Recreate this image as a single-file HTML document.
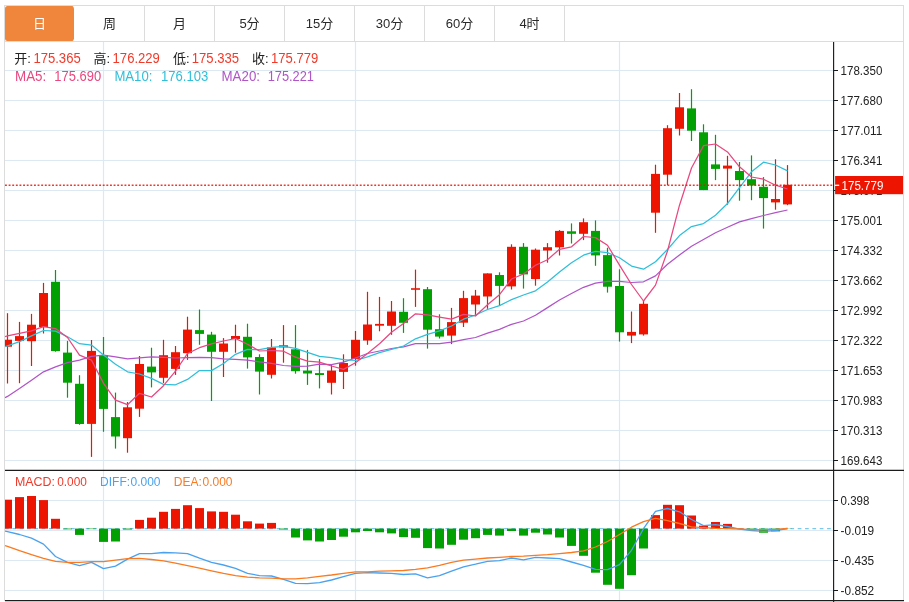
<!DOCTYPE html>
<html lang="zh-CN"><head><meta charset="utf-8"><title>K线图</title>
<style>
html,body{margin:0;padding:0;background:#fff;}
body{width:909px;height:602px;position:relative;overflow:hidden;font-family:"Liberation Sans","Noto Sans CJK SC",sans-serif;}
.tabs{position:absolute;left:5px;top:6px;height:35px;display:flex;}
.tab{box-sizing:border-box;width:70px;height:35px;line-height:35px;text-align:center;font-size:13px;color:#2a2a2a;border-right:1px solid #dcdcdc;}
.tab.on{background:#f0863c;color:#fff;border-radius:2.5px;border-right-color:#fff;background-clip:padding-box}
</style></head><body>
<svg width="909" height="602" viewBox="0 0 909 602" style="position:absolute;left:0;top:0">
<defs><clipPath id="cm"><rect x="5" y="42" width="829" height="428"/></clipPath><clipPath id="cd"><rect x="5" y="471" width="829" height="129"/></clipPath></defs>
<path d="M5 70.5H834M5 100.5H834M5 130.5H834M5 160.5H834M5 190.5H834M5 220.5H834M5 250.5H834M5 280.5H834M5 310.5H834M5 340.5H834M5 370.5H834M5 400.5H834M5 430.5H834M5 460.5H834M5 500.5H834M5 530.5H834M5 560.5H834M5 590.5H834M103.5 42V470M103.5 471V600M355.5 42V470M355.5 471V600M619.5 42V470M619.5 471V600" stroke="#dde9f2" stroke-width="1.2" fill="none"/>
<path d="M4 5.5H904M4 41.5H904M4.5 5V601M903.5 5V601" stroke="#dcdcdc" stroke-width="1" fill="none"/>
<g clip-path="url(#cm)">
<path d="M7.5 313.2V383.5" stroke="#ee1402" stroke-width="1.2"/><rect x="3.0" y="339.7" width="9" height="7.0" fill="#ee1402"/>
<path d="M19.5 321.9V383.2" stroke="#ee1402" stroke-width="1.2"/><rect x="15.0" y="336.1" width="9" height="4.8" fill="#ee1402"/>
<path d="M31.5 313.9V366.0" stroke="#ee1402" stroke-width="1.2"/><rect x="27.0" y="324.7" width="9" height="16.5" fill="#ee1402"/>
<path d="M43.5 282.9V333.5" stroke="#ee1402" stroke-width="1.2"/><rect x="39.0" y="293.0" width="9" height="34.0" fill="#ee1402"/>
<path d="M55.5 270.0V351.7" stroke="#02a002" stroke-width="1.2"/><rect x="51.0" y="281.8" width="9" height="69.3" fill="#02a002"/>
<path d="M67.5 340.9V397.7" stroke="#02a002" stroke-width="1.2"/><rect x="63.0" y="352.6" width="9" height="30.1" fill="#02a002"/>
<path d="M79.5 375.2V424.8" stroke="#02a002" stroke-width="1.2"/><rect x="75.0" y="383.8" width="9" height="40.2" fill="#02a002"/>
<path d="M91.5 340.0V456.9" stroke="#ee1402" stroke-width="1.2"/><rect x="87.0" y="350.9" width="9" height="73.0" fill="#ee1402"/>
<path d="M103.5 337.0V431.8" stroke="#02a002" stroke-width="1.2"/><rect x="99.0" y="355.1" width="9" height="53.8" fill="#02a002"/>
<path d="M115.5 392.6V448.6" stroke="#02a002" stroke-width="1.2"/><rect x="111.0" y="417.1" width="9" height="19.4" fill="#02a002"/>
<path d="M127.5 402.0V452.7" stroke="#ee1402" stroke-width="1.2"/><rect x="123.0" y="407.3" width="9" height="30.9" fill="#ee1402"/>
<path d="M139.5 356.0V416.9" stroke="#ee1402" stroke-width="1.2"/><rect x="135.0" y="364.0" width="9" height="44.7" fill="#ee1402"/>
<path d="M151.5 347.7V387.4" stroke="#02a002" stroke-width="1.2"/><rect x="147.0" y="366.6" width="9" height="5.8" fill="#02a002"/>
<path d="M163.5 339.8V383.1" stroke="#ee1402" stroke-width="1.2"/><rect x="159.0" y="355.2" width="9" height="22.6" fill="#ee1402"/>
<path d="M175.5 346.0V374.9" stroke="#ee1402" stroke-width="1.2"/><rect x="171.0" y="352.2" width="9" height="16.7" fill="#ee1402"/>
<path d="M187.5 316.7V359.9" stroke="#ee1402" stroke-width="1.2"/><rect x="183.0" y="329.6" width="9" height="23.6" fill="#ee1402"/>
<path d="M199.5 309.5V344.8" stroke="#02a002" stroke-width="1.2"/><rect x="195.0" y="330.1" width="9" height="3.8" fill="#02a002"/>
<path d="M211.5 331.8V401.0" stroke="#02a002" stroke-width="1.2"/><rect x="207.0" y="334.6" width="9" height="17.2" fill="#02a002"/>
<path d="M223.5 338.1V377.0" stroke="#ee1402" stroke-width="1.2"/><rect x="219.0" y="343.5" width="9" height="8.3" fill="#ee1402"/>
<path d="M235.5 324.7V352.7" stroke="#ee1402" stroke-width="1.2"/><rect x="231.0" y="336.0" width="9" height="3.0" fill="#ee1402"/>
<path d="M247.5 323.7V368.6" stroke="#02a002" stroke-width="1.2"/><rect x="243.0" y="336.8" width="9" height="20.6" fill="#02a002"/>
<path d="M259.5 354.3V394.5" stroke="#02a002" stroke-width="1.2"/><rect x="255.0" y="357.0" width="9" height="14.6" fill="#02a002"/>
<path d="M271.5 339.0V378.5" stroke="#ee1402" stroke-width="1.2"/><rect x="267.0" y="347.4" width="9" height="27.4" fill="#ee1402"/>
<path d="M283.5 325.1V362.7" stroke="#ee1402" stroke-width="1.2"/><rect x="279.0" y="345.3" width="9" height="2.1" fill="#ee1402"/>
<path d="M295.5 325.1V373.7" stroke="#02a002" stroke-width="1.2"/><rect x="291.0" y="349.3" width="9" height="21.9" fill="#02a002"/>
<path d="M307.5 349.9V384.9" stroke="#02a002" stroke-width="1.2"/><rect x="303.0" y="370.6" width="9" height="2.9" fill="#02a002"/>
<path d="M319.5 359.1V388.4" stroke="#02a002" stroke-width="1.2"/><rect x="315.0" y="373.1" width="9" height="1.9" fill="#02a002"/>
<path d="M331.5 364.9V394.5" stroke="#ee1402" stroke-width="1.2"/><rect x="327.0" y="370.6" width="9" height="12.2" fill="#ee1402"/>
<path d="M343.5 354.3V389.0" stroke="#ee1402" stroke-width="1.2"/><rect x="339.0" y="363.0" width="9" height="8.9" fill="#ee1402"/>
<path d="M355.5 331.0V365.7" stroke="#ee1402" stroke-width="1.2"/><rect x="351.0" y="339.8" width="9" height="19.1" fill="#ee1402"/>
<path d="M367.5 291.8V344.8" stroke="#ee1402" stroke-width="1.2"/><rect x="363.0" y="324.5" width="9" height="16.0" fill="#ee1402"/>
<path d="M379.5 296.9V331.3" stroke="#ee1402" stroke-width="1.2"/><rect x="375.0" y="323.9" width="9" height="1.8" fill="#ee1402"/>
<path d="M391.5 301.0V334.8" stroke="#ee1402" stroke-width="1.2"/><rect x="387.0" y="311.5" width="9" height="14.3" fill="#ee1402"/>
<path d="M403.5 298.2V332.9" stroke="#02a002" stroke-width="1.2"/><rect x="399.0" y="311.8" width="9" height="11.0" fill="#02a002"/>
<path d="M415.5 269.6V306.9" stroke="#ee1402" stroke-width="1.2"/><rect x="411.0" y="288.2" width="9" height="1.6" fill="#ee1402"/>
<path d="M427.5 287.0V348.6" stroke="#02a002" stroke-width="1.2"/><rect x="423.0" y="289.2" width="9" height="40.5" fill="#02a002"/>
<path d="M439.5 314.3V338.5" stroke="#02a002" stroke-width="1.2"/><rect x="435.0" y="329.2" width="9" height="7.4" fill="#02a002"/>
<path d="M451.5 307.9V344.1" stroke="#ee1402" stroke-width="1.2"/><rect x="447.0" y="322.1" width="9" height="13.5" fill="#ee1402"/>
<path d="M463.5 290.8V327.0" stroke="#ee1402" stroke-width="1.2"/><rect x="459.0" y="298.1" width="9" height="24.6" fill="#ee1402"/>
<path d="M475.5 289.9V316.0" stroke="#ee1402" stroke-width="1.2"/><rect x="471.0" y="295.6" width="9" height="8.9" fill="#ee1402"/>
<path d="M487.5 273.4V308.8" stroke="#ee1402" stroke-width="1.2"/><rect x="483.0" y="273.4" width="9" height="23.1" fill="#ee1402"/>
<path d="M499.5 272.3V305.6" stroke="#02a002" stroke-width="1.2"/><rect x="495.0" y="275.0" width="9" height="10.9" fill="#02a002"/>
<path d="M511.5 244.3V289.5" stroke="#ee1402" stroke-width="1.2"/><rect x="507.0" y="246.8" width="9" height="39.6" fill="#ee1402"/>
<path d="M523.5 243.1V288.6" stroke="#02a002" stroke-width="1.2"/><rect x="519.0" y="246.8" width="9" height="27.6" fill="#02a002"/>
<path d="M535.5 248.5V285.7" stroke="#ee1402" stroke-width="1.2"/><rect x="531.0" y="249.7" width="9" height="29.4" fill="#ee1402"/>
<path d="M547.5 243.1V262.7" stroke="#ee1402" stroke-width="1.2"/><rect x="543.0" y="247.2" width="9" height="3.3" fill="#ee1402"/>
<path d="M559.5 230.1V255.5" stroke="#ee1402" stroke-width="1.2"/><rect x="555.0" y="230.9" width="9" height="16.4" fill="#ee1402"/>
<path d="M571.5 223.4V243.5" stroke="#02a002" stroke-width="1.2"/><rect x="567.0" y="231.3" width="9" height="2.5" fill="#02a002"/>
<path d="M583.5 218.4V240.1" stroke="#ee1402" stroke-width="1.2"/><rect x="579.0" y="222.2" width="9" height="11.6" fill="#ee1402"/>
<path d="M595.5 220.4V265.8" stroke="#02a002" stroke-width="1.2"/><rect x="591.0" y="230.9" width="9" height="24.5" fill="#02a002"/>
<path d="M607.5 247.7V292.6" stroke="#02a002" stroke-width="1.2"/><rect x="603.0" y="255.1" width="9" height="31.6" fill="#02a002"/>
<path d="M619.5 269.3V341.6" stroke="#02a002" stroke-width="1.2"/><rect x="615.0" y="286.0" width="9" height="46.3" fill="#02a002"/>
<path d="M631.5 311.5V343.1" stroke="#ee1402" stroke-width="1.2"/><rect x="627.0" y="331.9" width="9" height="3.7" fill="#ee1402"/>
<path d="M643.5 300.2V335.6" stroke="#ee1402" stroke-width="1.2"/><rect x="639.0" y="303.8" width="9" height="30.6" fill="#ee1402"/>
<path d="M655.5 164.7V232.8" stroke="#ee1402" stroke-width="1.2"/><rect x="651.0" y="173.9" width="9" height="38.8" fill="#ee1402"/>
<path d="M667.5 125.2V185.1" stroke="#ee1402" stroke-width="1.2"/><rect x="663.0" y="128.2" width="9" height="46.5" fill="#ee1402"/>
<path d="M679.5 93.0V135.5" stroke="#ee1402" stroke-width="1.2"/><rect x="675.0" y="107.3" width="9" height="21.5" fill="#ee1402"/>
<path d="M691.5 89.2V141.0" stroke="#02a002" stroke-width="1.2"/><rect x="687.0" y="108.4" width="9" height="22.3" fill="#02a002"/>
<path d="M703.5 124.3V190.1" stroke="#02a002" stroke-width="1.2"/><rect x="699.0" y="132.3" width="9" height="57.8" fill="#02a002"/>
<path d="M715.5 134.8V180.1" stroke="#02a002" stroke-width="1.2"/><rect x="711.0" y="164.4" width="9" height="4.5" fill="#02a002"/>
<path d="M727.5 155.8V204.7" stroke="#ee1402" stroke-width="1.2"/><rect x="723.0" y="165.6" width="9" height="3.0" fill="#ee1402"/>
<path d="M739.5 162.0V200.7" stroke="#02a002" stroke-width="1.2"/><rect x="735.0" y="171.0" width="9" height="9.1" fill="#02a002"/>
<path d="M751.5 155.4V200.2" stroke="#02a002" stroke-width="1.2"/><rect x="747.0" y="179.2" width="9" height="6.3" fill="#02a002"/>
<path d="M763.5 177.1V228.6" stroke="#02a002" stroke-width="1.2"/><rect x="759.0" y="186.8" width="9" height="11.3" fill="#02a002"/>
<path d="M775.5 159.3V209.7" stroke="#ee1402" stroke-width="1.2"/><rect x="771.0" y="199.0" width="9" height="3.4" fill="#ee1402"/>
<path d="M787.5 165.1V205.2" stroke="#ee1402" stroke-width="1.2"/><rect x="783.0" y="184.8" width="9" height="19.6" fill="#ee1402"/>
<polyline points="5.0,397.7 7.5,396.4 19.5,388.5 31.5,380.2 43.5,371.8 55.5,366.8 67.5,362.6 79.5,360.1 91.5,356.4 103.5,355.1 115.5,356.8 127.5,358.8 139.5,357.8 151.5,356.9 163.5,357.4 175.5,358.0 187.5,357.7 199.5,357.4 211.5,357.7 223.5,358.9 235.5,359.4 247.5,360.2 259.5,361.9 271.5,363.3 283.5,365.5 295.5,366.4 307.5,366.2 319.5,364.2 331.5,364.6 343.5,362.2 355.5,358.0 367.5,353.5 379.5,351.0 391.5,348.5 403.5,346.8 415.5,343.7 427.5,343.6 439.5,343.6 451.5,342.2 463.5,339.7 475.5,337.5 487.5,333.2 499.5,329.4 511.5,324.3 523.5,321.0 535.5,315.2 547.5,307.6 559.5,300.0 571.5,293.5 583.5,287.3 595.5,283.1 607.5,281.4 619.5,281.4 631.5,282.5 643.5,281.8 655.5,275.9 667.5,264.2 679.5,255.0 691.5,246.2 703.5,239.5 715.5,232.8 727.5,227.3 739.5,221.9 751.5,218.6 763.5,215.5 775.5,212.7 787.5,210.0" fill="none" stroke="#b154c7" stroke-width="1.25" stroke-linejoin="round"/>
<polyline points="5.0,346.7 7.5,345.9 19.5,341.7 31.5,335.9 43.5,330.5 55.5,331.1 67.5,336.7 79.5,343.7 91.5,345.1 103.5,355.1 115.5,364.3 127.5,371.8 139.5,374.0 151.5,378.4 163.5,384.4 175.5,384.8 187.5,379.4 199.5,370.6 211.5,370.6 223.5,363.5 235.5,354.3 247.5,349.3 259.5,349.7 271.5,347.4 283.5,346.4 295.5,348.4 307.5,352.4 319.5,356.3 331.5,357.7 343.5,359.7 355.5,360.5 367.5,356.9 379.5,352.7 391.5,349.3 403.5,346.0 415.5,338.8 427.5,334.4 439.5,330.9 451.5,326.0 463.5,319.2 475.5,315.0 487.5,309.5 499.5,305.6 511.5,299.6 523.5,295.0 535.5,290.8 547.5,282.0 559.5,271.9 571.5,262.7 583.5,255.2 595.5,251.4 607.5,252.6 619.5,257.8 631.5,266.1 643.5,269.2 655.5,261.7 667.5,249.5 679.5,235.6 691.5,226.6 703.5,223.6 715.5,215.2 727.5,203.5 739.5,187.6 751.5,171.8 763.5,162.2 775.5,165.0 787.5,170.9" fill="none" stroke="#2fbfd9" stroke-width="1.25" stroke-linejoin="round"/>
<polyline points="5.0,336.7 7.5,335.9 19.5,333.3 31.5,330.8 43.5,326.6 55.5,328.6 67.5,337.5 79.5,355.1 91.5,360.1 103.5,383.3 115.5,400.1 127.5,404.7 139.5,393.3 151.5,397.0 163.5,385.7 175.5,371.1 187.5,353.5 199.5,347.7 211.5,343.8 223.5,341.0 235.5,338.5 247.5,344.3 259.5,351.0 271.5,350.5 283.5,351.2 295.5,357.2 307.5,361.1 319.5,362.2 331.5,366.0 343.5,369.4 355.5,362.7 367.5,353.5 379.5,343.8 391.5,332.3 403.5,323.6 415.5,313.8 427.5,314.8 439.5,317.1 451.5,319.2 463.5,314.3 475.5,316.0 487.5,304.8 499.5,294.7 511.5,279.0 523.5,274.0 535.5,265.2 547.5,259.7 559.5,249.3 571.5,246.8 583.5,236.5 595.5,237.6 607.5,245.2 619.5,265.1 631.5,284.5 643.5,301.0 655.5,285.1 667.5,251.0 679.5,205.2 691.5,168.0 703.5,145.7 715.5,144.0 727.5,151.9 739.5,166.8 751.5,177.0 763.5,179.2 775.5,185.2 787.5,189.0" fill="none" stroke="#e9477f" stroke-width="1.25" stroke-linejoin="round"/>
</g>
<path d="M5 185.2H833" stroke="#ee1402" stroke-width="1.6" stroke-dasharray="1.9 1.72" opacity="0.85"/>
<g clip-path="url(#cd)">
<path d="M5 528.6H833" stroke="#7cc8ea" stroke-width="1.2" stroke-dasharray="3.7 3.64"/>
<rect x="3.0" y="499.7" width="9" height="28.9" fill="#ee1402"/>
<rect x="15.0" y="497.1" width="9" height="31.5" fill="#ee1402"/>
<rect x="27.0" y="496.0" width="9" height="32.6" fill="#ee1402"/>
<rect x="39.0" y="500.1" width="9" height="28.5" fill="#ee1402"/>
<rect x="51.0" y="518.8" width="9" height="9.8" fill="#ee1402"/>
<rect x="63.0" y="528.6" width="9" height="0.7" fill="#02a002"/>
<rect x="75.0" y="528.6" width="9" height="6.3" fill="#02a002"/>
<rect x="87.0" y="528.6" width="9" height="0.5" fill="#02a002"/>
<rect x="99.0" y="528.6" width="9" height="13.3" fill="#02a002"/>
<rect x="111.0" y="528.6" width="9" height="12.9" fill="#02a002"/>
<rect x="123.0" y="528.6" width="9" height="0.9" fill="#02a002"/>
<rect x="135.0" y="519.9" width="9" height="8.7" fill="#ee1402"/>
<rect x="147.0" y="517.7" width="9" height="10.9" fill="#ee1402"/>
<rect x="159.0" y="511.8" width="9" height="16.8" fill="#ee1402"/>
<rect x="171.0" y="508.9" width="9" height="19.7" fill="#ee1402"/>
<rect x="183.0" y="505.2" width="9" height="23.4" fill="#ee1402"/>
<rect x="195.0" y="508.1" width="9" height="20.5" fill="#ee1402"/>
<rect x="207.0" y="511.4" width="9" height="17.2" fill="#ee1402"/>
<rect x="219.0" y="511.8" width="9" height="16.8" fill="#ee1402"/>
<rect x="231.0" y="514.7" width="9" height="13.9" fill="#ee1402"/>
<rect x="243.0" y="521.3" width="9" height="7.3" fill="#ee1402"/>
<rect x="255.0" y="523.6" width="9" height="5.0" fill="#ee1402"/>
<rect x="267.0" y="522.9" width="9" height="5.7" fill="#ee1402"/>
<rect x="279.0" y="528.6" width="9" height="0.9" fill="#02a002"/>
<rect x="291.0" y="528.6" width="9" height="8.9" fill="#02a002"/>
<rect x="303.0" y="528.6" width="9" height="11.8" fill="#02a002"/>
<rect x="315.0" y="528.6" width="9" height="12.9" fill="#02a002"/>
<rect x="327.0" y="528.6" width="9" height="11.4" fill="#02a002"/>
<rect x="339.0" y="528.6" width="9" height="8.1" fill="#02a002"/>
<rect x="351.0" y="528.6" width="9" height="3.7" fill="#02a002"/>
<rect x="363.0" y="528.6" width="9" height="2.4" fill="#02a002"/>
<rect x="375.0" y="528.6" width="9" height="3.7" fill="#02a002"/>
<rect x="387.0" y="528.6" width="9" height="4.8" fill="#02a002"/>
<rect x="399.0" y="528.6" width="9" height="8.5" fill="#02a002"/>
<rect x="411.0" y="528.6" width="9" height="9.2" fill="#02a002"/>
<rect x="423.0" y="528.6" width="9" height="19.5" fill="#02a002"/>
<rect x="435.0" y="528.6" width="9" height="19.9" fill="#02a002"/>
<rect x="447.0" y="528.6" width="9" height="16.2" fill="#02a002"/>
<rect x="459.0" y="528.6" width="9" height="11.1" fill="#02a002"/>
<rect x="471.0" y="528.6" width="9" height="9.6" fill="#02a002"/>
<rect x="483.0" y="528.6" width="9" height="6.3" fill="#02a002"/>
<rect x="495.0" y="528.6" width="9" height="7.0" fill="#02a002"/>
<rect x="507.0" y="528.6" width="9" height="2.4" fill="#02a002"/>
<rect x="519.0" y="528.6" width="9" height="7.0" fill="#02a002"/>
<rect x="531.0" y="528.6" width="9" height="4.1" fill="#02a002"/>
<rect x="543.0" y="528.6" width="9" height="5.9" fill="#02a002"/>
<rect x="555.0" y="528.6" width="9" height="8.9" fill="#02a002"/>
<rect x="567.0" y="528.6" width="9" height="17.3" fill="#02a002"/>
<rect x="579.0" y="528.6" width="9" height="27.2" fill="#02a002"/>
<rect x="591.0" y="528.6" width="9" height="44.1" fill="#02a002"/>
<rect x="603.0" y="528.6" width="9" height="56.2" fill="#02a002"/>
<rect x="615.0" y="528.6" width="9" height="60.2" fill="#02a002"/>
<rect x="627.0" y="528.6" width="9" height="46.6" fill="#02a002"/>
<rect x="639.0" y="528.6" width="9" height="19.9" fill="#02a002"/>
<rect x="651.0" y="515.1" width="9" height="13.5" fill="#ee1402"/>
<rect x="663.0" y="504.8" width="9" height="23.8" fill="#ee1402"/>
<rect x="675.0" y="505.2" width="9" height="23.4" fill="#ee1402"/>
<rect x="687.0" y="515.5" width="9" height="13.1" fill="#ee1402"/>
<rect x="699.0" y="525.7" width="9" height="2.9" fill="#ee1402"/>
<rect x="711.0" y="522.0" width="9" height="6.6" fill="#ee1402"/>
<rect x="723.0" y="523.9" width="9" height="4.7" fill="#ee1402"/>
<rect x="735.0" y="528.2" width="9" height="0.4" fill="#ee1402"/>
<rect x="747.0" y="528.6" width="9" height="0.9" fill="#02a002"/>
<rect x="759.0" y="528.6" width="9" height="4.1" fill="#02a002"/>
<rect x="771.0" y="528.6" width="9" height="2.8" fill="#02a002"/>
<rect x="783.0" y="528.6" width="9" height="0.2" fill="#02a002"/>
<polyline points="5.0,531.2 7.5,531.6 19.5,534.5 31.5,538.2 43.5,544.1 55.5,556.5 67.5,562.4 79.5,565.7 91.5,562.4 103.5,568.6 115.5,566.1 127.5,559.1 139.5,553.6 151.5,553.6 163.5,552.5 175.5,552.9 187.5,553.6 199.5,558.2 211.5,562.4 223.5,565.0 235.5,568.3 247.5,573.4 259.5,575.6 271.5,576.0 283.5,579.3 295.5,583.3 307.5,583.7 319.5,582.6 331.5,580.0 343.5,576.7 355.5,573.4 367.5,572.7 379.5,573.0 391.5,573.4 403.5,574.5 415.5,573.8 427.5,577.8 439.5,575.6 451.5,571.2 463.5,566.8 475.5,564.2 487.5,561.3 499.5,560.6 511.5,558.0 523.5,559.8 535.5,557.3 547.5,558.0 559.5,558.7 571.5,562.0 583.5,565.3 595.5,569.4 607.5,569.7 619.5,564.6 631.5,550.3 643.5,528.7 655.5,511.4 667.5,508.5 679.5,511.8 691.5,519.5 703.5,525.7 715.5,524.6 727.5,526.5 739.5,529.2 751.5,530.5 763.5,531.4 775.5,530.5 787.5,528.5" fill="none" stroke="#4aa2ee" stroke-width="1.3" stroke-linejoin="round"/>
<polyline points="5.0,545.5 7.5,546.3 19.5,550.7 31.5,554.7 43.5,558.4 55.5,561.3 67.5,562.4 79.5,562.4 91.5,561.7 103.5,561.7 115.5,560.2 127.5,558.7 139.5,558.4 151.5,559.5 163.5,560.9 175.5,563.1 187.5,565.7 199.5,568.1 211.5,570.8 223.5,573.4 235.5,575.6 247.5,577.1 259.5,577.8 271.5,578.2 283.5,578.9 295.5,578.9 307.5,577.8 319.5,576.3 331.5,575.0 343.5,573.4 355.5,571.9 367.5,571.9 379.5,571.2 391.5,570.8 403.5,570.5 415.5,569.4 427.5,567.9 439.5,565.3 451.5,562.4 463.5,560.2 475.5,559.1 487.5,558.0 499.5,557.3 511.5,556.5 523.5,556.2 535.5,555.4 547.5,554.7 559.5,553.6 571.5,552.5 583.5,550.8 595.5,547.0 607.5,541.5 619.5,534.5 631.5,527.2 643.5,521.7 655.5,518.4 667.5,520.6 679.5,523.5 691.5,526.8 703.5,527.6 715.5,528.3 727.5,528.7 739.5,529.0 751.5,529.7 763.5,529.7 775.5,529.4 787.5,528.5" fill="none" stroke="#fa7a20" stroke-width="1.3" stroke-linejoin="round"/>
</g>
<path d="M833.6 42V602" stroke="#1c1c1c" stroke-width="1.15" fill="none"/><path d="M5 470.4H904M5 600.6H904" stroke="#1c1c1c" stroke-width="1.25" fill="none"/>
<path d="M834 70.5H838M834 100.5H838M834 130.5H838M834 160.5H838M834 190.5H838M834 220.5H838M834 250.5H838M834 280.5H838M834 310.5H838M834 340.5H838M834 370.5H838M834 400.5H838M834 430.5H838M834 460.5H838M834 500.5H838M834 530.5H838M834 560.5H838M834 590.5H838" stroke="#1a1a1a" stroke-width="1.2"/>
<g font-family="'Liberation Sans', sans-serif" font-size="13.2" fill="#222">
<text x="840.6" y="74.6" textLength="41.7" lengthAdjust="spacingAndGlyphs">178.350</text>
<text x="840.6" y="104.6" textLength="41.7" lengthAdjust="spacingAndGlyphs">177.680</text>
<text x="840.6" y="134.6" textLength="41.7" lengthAdjust="spacingAndGlyphs">177.011</text>
<text x="840.6" y="164.6" textLength="41.7" lengthAdjust="spacingAndGlyphs">176.341</text>
<text x="840.6" y="194.6" textLength="41.7" lengthAdjust="spacingAndGlyphs">175.671</text>
<text x="840.6" y="224.6" textLength="41.7" lengthAdjust="spacingAndGlyphs">175.001</text>
<text x="840.6" y="254.6" textLength="41.7" lengthAdjust="spacingAndGlyphs">174.332</text>
<text x="840.6" y="284.6" textLength="41.7" lengthAdjust="spacingAndGlyphs">173.662</text>
<text x="840.6" y="314.6" textLength="41.7" lengthAdjust="spacingAndGlyphs">172.992</text>
<text x="840.6" y="344.6" textLength="41.7" lengthAdjust="spacingAndGlyphs">172.322</text>
<text x="840.6" y="374.6" textLength="41.7" lengthAdjust="spacingAndGlyphs">171.653</text>
<text x="840.6" y="404.6" textLength="41.7" lengthAdjust="spacingAndGlyphs">170.983</text>
<text x="840.6" y="434.6" textLength="41.7" lengthAdjust="spacingAndGlyphs">170.313</text>
<text x="840.6" y="464.6" textLength="41.7" lengthAdjust="spacingAndGlyphs">169.643</text>
<text x="840.6" y="504.6" textLength="28.8" lengthAdjust="spacingAndGlyphs">0.398</text>
<text x="840.6" y="534.6" textLength="33.6" lengthAdjust="spacingAndGlyphs">-0.019</text>
<text x="840.6" y="564.6" textLength="33.6" lengthAdjust="spacingAndGlyphs">-0.435</text>
<text x="840.6" y="594.6" textLength="33.6" lengthAdjust="spacingAndGlyphs">-0.852</text>
</g>
<rect x="835.1" y="176" width="67.9" height="18.2" fill="#ee1402"/>
<path d="M835.1 185.3H839.2" stroke="#fff" stroke-width="1.3"/>
<text x="841.6" y="189.8" font-family="'Liberation Sans', sans-serif" font-size="13.2" fill="#fff" textLength="41.7" lengthAdjust="spacingAndGlyphs">175.779</text>
<text x="14.3" y="63.3" font-family="'Liberation Sans','Noto Sans CJK SC',sans-serif" font-size="13" fill="#222">开:</text>
<text x="33.4" y="63.3" font-family="'Liberation Sans','Noto Sans CJK SC',sans-serif" font-size="14" fill="#f03a2a" textLength="47.3" lengthAdjust="spacingAndGlyphs">175.365</text>
<text x="93.5" y="63.3" font-family="'Liberation Sans','Noto Sans CJK SC',sans-serif" font-size="13" fill="#222">高:</text>
<text x="112.6" y="63.3" font-family="'Liberation Sans','Noto Sans CJK SC',sans-serif" font-size="14" fill="#f03a2a" textLength="47.3" lengthAdjust="spacingAndGlyphs">176.229</text>
<text x="173.1" y="63.3" font-family="'Liberation Sans','Noto Sans CJK SC',sans-serif" font-size="13" fill="#222">低:</text>
<text x="191.8" y="63.3" font-family="'Liberation Sans','Noto Sans CJK SC',sans-serif" font-size="14" fill="#f03a2a" textLength="47.3" lengthAdjust="spacingAndGlyphs">175.335</text>
<text x="251.9" y="63.3" font-family="'Liberation Sans','Noto Sans CJK SC',sans-serif" font-size="13" fill="#222">收:</text>
<text x="271" y="63.3" font-family="'Liberation Sans','Noto Sans CJK SC',sans-serif" font-size="14" fill="#f03a2a" textLength="47.3" lengthAdjust="spacingAndGlyphs">175.779</text>
<text x="15" y="81.4" font-family="'Liberation Sans','Noto Sans CJK SC',sans-serif" font-size="14" fill="#e9477f" textLength="31.2" lengthAdjust="spacingAndGlyphs">MA5:</text>
<text x="54.3" y="81.4" font-family="'Liberation Sans','Noto Sans CJK SC',sans-serif" font-size="14" fill="#e9477f" textLength="46.9" lengthAdjust="spacingAndGlyphs">175.690</text>
<text x="114.4" y="81.4" font-family="'Liberation Sans','Noto Sans CJK SC',sans-serif" font-size="14" fill="#2fbfd9" textLength="38" lengthAdjust="spacingAndGlyphs">MA10:</text>
<text x="161" y="81.4" font-family="'Liberation Sans','Noto Sans CJK SC',sans-serif" font-size="14" fill="#2fbfd9" textLength="47.3" lengthAdjust="spacingAndGlyphs">176.103</text>
<text x="221.5" y="81.4" font-family="'Liberation Sans','Noto Sans CJK SC',sans-serif" font-size="14" fill="#b154c7" textLength="38.5" lengthAdjust="spacingAndGlyphs">MA20:</text>
<text x="267.7" y="81.4" font-family="'Liberation Sans','Noto Sans CJK SC',sans-serif" font-size="14" fill="#b154c7" textLength="46.3" lengthAdjust="spacingAndGlyphs">175.221</text>
<text x="15" y="486" font-family="'Liberation Sans','Noto Sans CJK SC',sans-serif" font-size="12" fill="#ee3a2a" textLength="40" lengthAdjust="spacingAndGlyphs">MACD:</text>
<text x="57.2" y="486" font-family="'Liberation Sans','Noto Sans CJK SC',sans-serif" font-size="12" fill="#ee3a2a" textLength="29.7" lengthAdjust="spacingAndGlyphs">0.000</text>
<text x="100.1" y="486" font-family="'Liberation Sans','Noto Sans CJK SC',sans-serif" font-size="12" fill="#4aa2ee">DIFF:</text>
<text x="130.5" y="486" font-family="'Liberation Sans','Noto Sans CJK SC',sans-serif" font-size="12" fill="#4aa2ee" textLength="30" lengthAdjust="spacingAndGlyphs">0.000</text>
<text x="173.8" y="486" font-family="'Liberation Sans','Noto Sans CJK SC',sans-serif" font-size="12" fill="#fa7a20">DEA:</text>
<text x="202.5" y="486" font-family="'Liberation Sans','Noto Sans CJK SC',sans-serif" font-size="12" fill="#fa7a20" textLength="30" lengthAdjust="spacingAndGlyphs">0.000</text>
</svg>
<div class="tabs"><div class="tab on">日</div><div class="tab">周</div><div class="tab">月</div><div class="tab">5分</div><div class="tab">15分</div><div class="tab">30分</div><div class="tab">60分</div><div class="tab">4时</div></div>
</body></html>
